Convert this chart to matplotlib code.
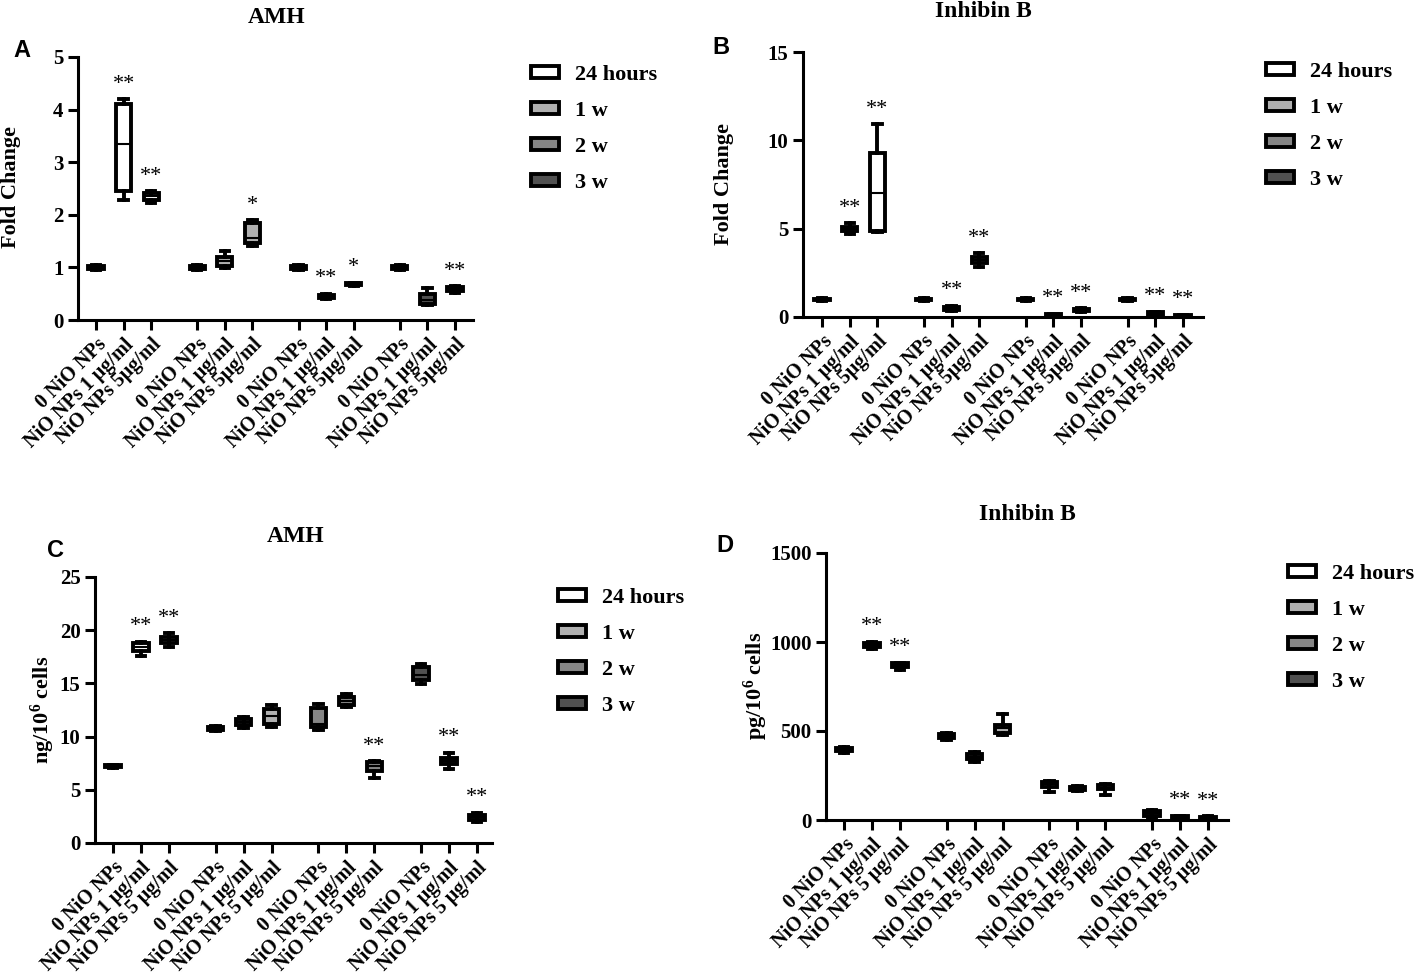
import numpy as np
import matplotlib
matplotlib.use('Agg')
import matplotlib.pyplot as plt
from matplotlib.patches import Patch

plt.rcParams['font.family'] = 'Liberation Serif'
plt.rcParams['font.weight'] = 'bold'
plt.rcParams['mathtext.fontset'] = 'custom'
plt.rcParams['mathtext.rm'] = 'Liberation Serif:bold'
plt.rcParams['mathtext.bf'] = 'Liberation Serif:bold'
plt.rcParams['mathtext.it'] = 'Liberation Serif:bold'

W, H = 1417, 977

# ---- data ----
groups = ['24 hours', '1 w', '2 w', '3 w']
group_colors = ['white', '#b0b0b0', '#858585', '#505050']
labels_ab = ['0 NiO NPs', 'NiO NPs 1 µg/ml', 'NiO NPs 5µg/ml'] * 4
labels_cd = ['0 NiO NPs', 'NiO NPs 1 µg/ml', 'NiO NPs 5 µg/ml'] * 4

# A: AMH fold change
a_lo  = [0.95, 2.28, 2.22, 0.95, 0.98, 1.40, 0.95, 0.40, 0.65, 0.95, 0.28, 0.52]
a_q1  = [0.97, 2.45, 2.28, 0.97, 1.03, 1.47, 0.97, 0.42, 0.66, 0.97, 0.30, 0.55]
a_med = [1.00, 3.35, 2.35, 1.00, 1.12, 1.55, 1.00, 0.45, 0.68, 1.00, 0.38, 0.58]
a_q3  = [1.03, 4.10, 2.42, 1.03, 1.20, 1.85, 1.03, 0.48, 0.70, 1.03, 0.50, 0.62]
a_hi  = [1.05, 4.20, 2.45, 1.05, 1.32, 1.90, 1.05, 0.50, 0.71, 1.05, 0.60, 0.64]
a_sig = ['', '**', '**', '', '', '*', '', '**', '*', '', '', '**']

# B: Inhibin B fold change
b_lo  = [0.93, 4.70, 4.80, 0.93, 0.35, 2.85, 0.93, 0.03, 0.30, 0.93, 0.10, 0.02]
b_q1  = [0.96, 4.85, 4.85, 0.96, 0.42, 3.05, 0.96, 0.05, 0.33, 0.96, 0.12, 0.04]
b_med = [1.00, 5.00, 7.00, 1.00, 0.50, 3.25, 1.00, 0.10, 0.40, 1.00, 0.20, 0.08]
b_q3  = [1.04, 5.10, 9.30, 1.04, 0.58, 3.40, 1.04, 0.15, 0.47, 1.04, 0.28, 0.12]
b_hi  = [1.07, 5.30, 10.9, 1.07, 0.62, 3.60, 1.07, 0.17, 0.50, 1.07, 0.30, 0.14]
b_sig = ['', '**', '**', '', '**', '**', '', '**', '**', '', '**', '**']

# C: AMH ng/10^6 cells
c_lo  = [7.05, 17.6, 18.45, 10.55, 10.8, 10.9, 10.6, 12.8, 6.1, 14.9, 7.0, 1.95]
c_q1  = [7.10, 18.0, 18.8, 10.60, 11.1, 11.2, 10.9, 13.0, 6.8, 15.3, 7.4, 2.20]
c_med = [7.20, 18.4, 19.1, 10.75, 11.4, 11.9, 11.2, 13.3, 7.2, 15.8, 7.7, 2.40]
c_q3  = [7.30, 18.8, 19.4, 10.90, 11.7, 12.6, 12.7, 13.7, 7.6, 16.5, 8.0, 2.65]
c_hi  = [7.35, 18.9, 19.7, 10.95, 11.8, 13.0, 13.1, 14.0, 7.7, 16.8, 8.5, 2.85]
c_sig = ['', '**', '**', '', '', '', '', '', '**', '', '**', '**']

# D: Inhibin B pg/10^6 cells
d_lo  = [378, 962, 845, 452, 325, 478, 155, 162, 142, 10, 3, 2]
d_q1  = [388, 970, 860, 460, 345, 490, 185, 168, 172, 25, 8, 6]
d_med = [395, 982, 870, 470, 355, 515, 200, 178, 182, 38, 12, 10]
d_q3  = [405, 992, 880, 482, 370, 535, 212, 188, 195, 50, 20, 16]
d_hi  = [410, 1000, 882, 488, 380, 595, 220, 192, 200, 58, 25, 22]
d_sig = ['', '**', '**', '', '', '', '', '', '', '', '**', '**']

pos = [g * 3.67 + i for g in range(4) for i in range(3)]

fig = plt.figure(figsize=(W / 100, H / 100), dpi=100)


def panel(box, lo, q1, med, q3, hi, sig, labels, ylim, yticks, title, title_xy,
          letter, letter_xy, ylabel, ylabel_xy, leg_xy):
    left, top, right, bottom, first, last = box
    ax = fig.add_axes([left / W, 1 - bottom / H, (right - left) / W, (bottom - top) / H])
    unit = (last - first) / (pos[-1] - pos[0])
    ax.set_xlim(-(first - left) / unit, (right - first) / unit)
    ax.set_ylim(*ylim)

    stats = [dict(whislo=lo[k], q1=q1[k], med=med[k], q3=q3[k], whishi=hi[k], fliers=[])
             for k in range(len(med))]
    bp = ax.bxp(stats, positions=pos, widths=0.55, capwidths=0.3, patch_artist=True,
                showfliers=False,
                boxprops=dict(linewidth=2.8, edgecolor='black'),
                whiskerprops=dict(linewidth=2.8, color='black'),
                capprops=dict(linewidth=2.8, color='black'),
                medianprops=dict(linewidth=1.5, color='black'))
    for k, b in enumerate(bp['boxes']):
        b.set_facecolor(group_colors[k // 3])
        b.set_clip_on(False)

    for k, s in enumerate(sig):
        if s:
            ax.annotate(s, (pos[k], hi[k]), xytext=(0, 4), textcoords='offset points',
                        ha='center', va='bottom', fontsize=16, fontweight='normal')

    for sp in ['top', 'right']:
        ax.spines[sp].set_visible(False)
    for sp in ['left', 'bottom']:
        ax.spines[sp].set_linewidth(2.2)
    ax.set_yticks(yticks)
    ax.set_xticks(pos)
    ax.set_xticklabels(labels, rotation=45, ha='right', rotation_mode='anchor')
    ax.tick_params(direction='out', length=7.5, width=2.2, pad=3)
    ax.tick_params(axis='x', labelsize=14.5)
    ax.tick_params(axis='y', labelsize=15)

    fig.text(title_xy[0] / W, 1 - title_xy[1] / H, title, ha='center', va='baseline',
             fontsize=17, fontweight='bold')
    fig.text(letter_xy[0] / W, 1 - letter_xy[1] / H, letter, ha='left', va='baseline',
             fontsize=17, fontweight='bold', family='Liberation Sans')
    fig.text(ylabel_xy[0] / W, 1 - ylabel_xy[1] / H, ylabel, ha='center', va='center',
             rotation=90, fontsize=16, fontweight='bold')

    handles = [Patch(facecolor=c, edgecolor='black', linewidth=2.8) for c in group_colors]
    fig.legend(handles, groups, loc='upper left', bbox_to_anchor=(leg_xy[0] / W, 1 - leg_xy[1] / H),
               frameon=False, fontsize=16, handlelength=1.25, handleheight=0.45,
               handletextpad=0.75, labelspacing=0.72, borderpad=0, borderaxespad=0)
    return ax


panel((78, 57, 473, 320, 96, 455), a_lo, a_q1, a_med, a_q3, a_hi, a_sig, labels_ab,
      (0, 5), [0, 1, 2, 3, 4, 5], 'AMH', (277, 23), 'A', (13, 57),
      'Fold Change', (11, 187), (531, 65))
panel((803, 52, 1203, 317, 822, 1183), b_lo, b_q1, b_med, b_q3, b_hi, b_sig, labels_ab,
      (0, 15), [0, 5, 10, 15], 'Inhibin B', (983, 17), 'B', (712, 54),
      'Fold Change', (724, 184), (1266, 62))
panel((95, 577, 492, 843, 113, 477), c_lo, c_q1, c_med, c_q3, c_hi, c_sig, labels_cd,
      (0, 25), [0, 5, 10, 15, 20, 25], 'AMH', (296, 542), 'C', (47, 557),
      r'ng/10$^{6}$ cells', (43, 710), (558, 588))
panel((826, 553, 1228, 820, 844, 1208), d_lo, d_q1, d_med, d_q3, d_hi, d_sig, labels_cd,
      (0, 1500), [0, 500, 1000, 1500], 'Inhibin B', (1027, 520), 'D', (716, 552),
      r'pg/10$^{6}$ cells', (756, 686), (1288, 564))

fig.savefig('out.png', dpi=100)
